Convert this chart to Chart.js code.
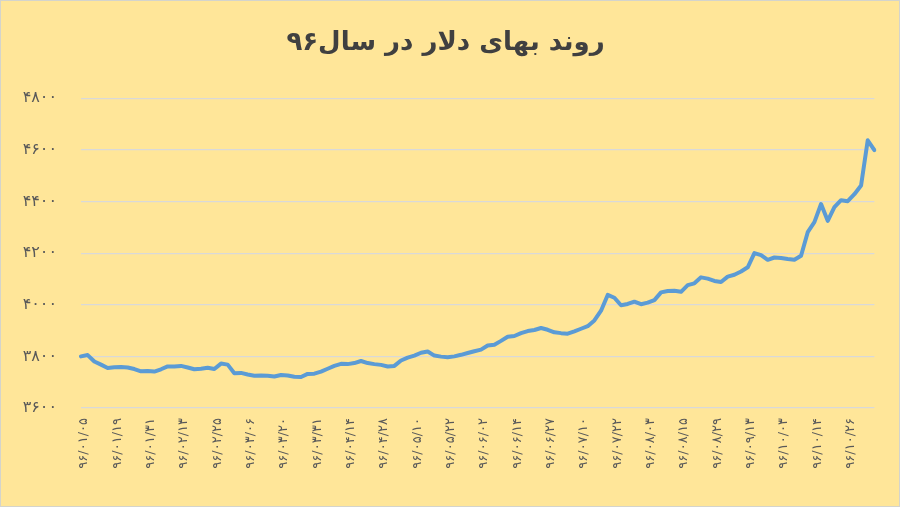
<!DOCTYPE html>
<html>
<head>
<meta charset="utf-8">
<script src="https://cdn.jsdelivr.net/npm/chart.js@4/dist/chart.umd.min.js"></script>
<style>
  html, body { margin: 0; padding: 0; background: #fff; }
  #wrap {
    width: 900px; height: 507px; position: relative;
    background: #FFE699;
    box-shadow: inset 0 0 0 1px #d4d4cc;
  }
</style>
</head>
<body>
<div id="wrap"><canvas id="dollarChart"></canvas></div>
<script>
// برچسب‌های محور افقی (هر ۵ نقطه یک برچسب)
const categories = [
  '۹۶/۰۱/۰۵', '۹۶/۰۱/۱۹', '۹۶/۰۱/۳۱', '۹۶/۰۲/۱۳', '۹۶/۰۲/۲۵', '۹۶/۰۳/۰۶',
  '۹۶/۰۳/۲۰', '۹۶/۰۳/۳۱', '۹۶/۰۴/۱۴', '۹۶/۰۴/۲۸', '۹۶/۰۵/۱۰', '۹۶/۰۵/۲۲',
  '۹۶/۰۶/۰۲', '۹۶/۰۶/۱۴', '۹۶/۰۶/۲۷', '۹۶/۰۷/۱۰', '۹۶/۰۷/۲۲', '۹۶/۰۸/۰۳',
  '۹۶/۰۸/۱۵', '۹۶/۰۸/۲۹', '۹۶/۰۹/۱۳', '۹۶/۱۰/۰۳', '۹۶/۱۰/۱۴', '۹۶/۱۰/۲۶'
];
const pointsPerLabel = 5;

// قیمت دلار (تومان)
const prices = [
  3800, 3805, 3780, 3768, 3755, 3758, 3759, 3757, 3751, 3742,
  3743, 3741, 3750, 3761, 3761, 3763, 3757, 3750, 3752, 3756,
  3751, 3772, 3768, 3735, 3736, 3730, 3725, 3726, 3725, 3722,
  3728, 3726, 3721, 3720, 3732, 3733, 3741, 3752, 3763, 3771,
  3770, 3774, 3782, 3774, 3770, 3767, 3761, 3763, 3784, 3795,
  3803, 3814, 3819, 3803, 3799, 3797, 3800, 3806, 3813, 3820,
  3826, 3842, 3845, 3860, 3876, 3879, 3890, 3898, 3902, 3910,
  3903, 3893, 3890, 3888, 3897, 3907, 3917, 3939, 3977, 4038,
  4027, 3998, 4003, 4012, 4002, 4008, 4018, 4048, 4053, 4054,
  4050, 4076, 4083, 4106, 4101, 4092, 4088, 4109, 4116, 4129,
  4145, 4200, 4192, 4174, 4183, 4181, 4177, 4174, 4190, 4281,
  4320, 4390, 4325, 4378, 4405, 4401, 4428, 4462, 4637, 4599
];

const yMin = 3600;
const yMax = 4800;
const yStep = 200;

const persianDigits = '۰۱۲۳۴۵۶۷۸۹';
function toPersian(n) {
  return String(n).replace(/\d/g, d => persianDigits[d]);
}

const labels = prices.map((p, i) =>
  i % pointsPerLabel === 0 ? (categories[i / pointsPerLabel] || '') : '');

const textColor = '#595959';

new Chart(document.getElementById('dollarChart').getContext('2d'), {
  type: 'line',
  data: {
    labels: labels,
    datasets: [{
      label: 'دلار',
      data: prices,
      borderColor: '#5B9BD5',
      borderWidth: 4,
      fill: false,
      tension: 0,
      pointRadius: 0,
      borderJoinStyle: 'round',
      borderCapStyle: 'round'
    }]
  },
  options: {
    responsive: true,
    maintainAspectRatio: false,
    animation: false,
    layout: { padding: { left: 15, right: 24, top: 0, bottom: 0 } },
    scales: {
      x: {
        grid: { display: false, drawTicks: false },
        border: { display: false },
        ticks: {
          autoSkip: false,
          minRotation: 90,
          maxRotation: 90,
          padding: 10,
          labelOffset: 3,
          color: textColor,
          font: { family: 'DejaVu Sans', size: 13 }
        },
        afterFit: function (scale) { scale.height = 99; }
      },
      y: {
        min: yMin,
        max: yMax,
        grid: { color: '#D9D9D9', lineWidth: 1.2, drawTicks: false },
        border: { display: false },
        ticks: {
          stepSize: yStep,
          padding: 24,
          color: textColor,
          font: { family: 'DejaVu Sans', size: 16 },
          callback: v => toPersian(v)
        },
        afterFit: function (scale) { scale.width = 66; }
      }
    },
    plugins: {
      legend: { display: false },
      tooltip: { enabled: false },
      title: {
        display: true,
        text: 'روند بهای دلار در سال۹۶',
        color: '#404040',
        font: { family: 'DejaVu Sans', size: 26, weight: 'bold', lineHeight: 1.2 },
        padding: { top: 28, bottom: 39 }
      }
    }
  }
});
</script>
</body>
</html>
